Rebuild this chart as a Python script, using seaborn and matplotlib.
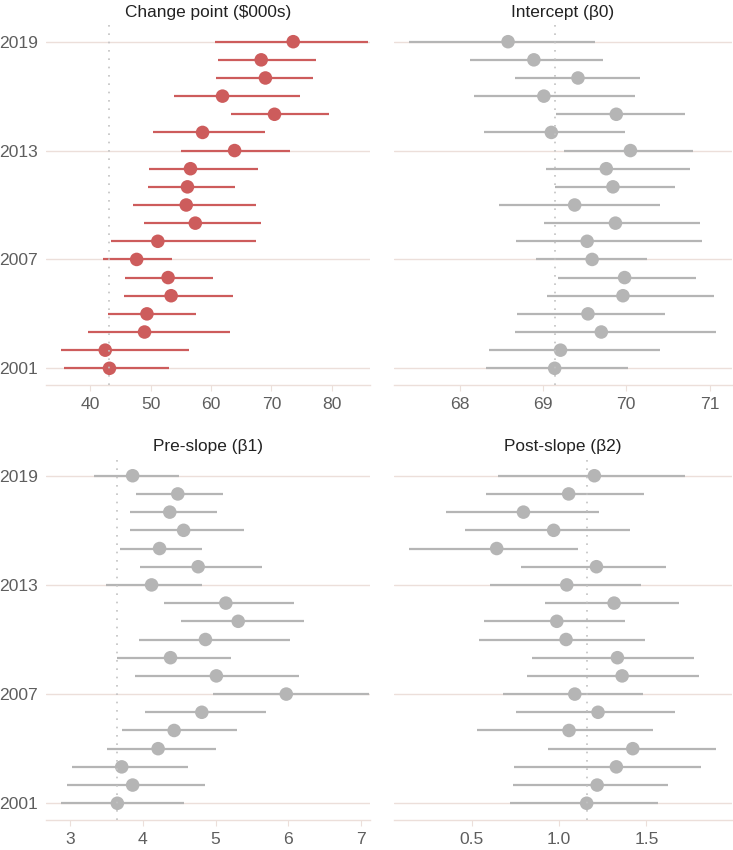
import matplotlib
matplotlib.use("Agg")
import matplotlib.pyplot as plt
import seaborn as sns
import pandas as pd

# years, top row first
years = list(range(2019, 2000, -1))

# Change point ($000s)
cp_est = [73.6, 68.3, 69.0, 61.9, 70.5, 58.6, 63.9, 56.6, 56.1, 55.9, 57.4, 51.2, 47.7, 52.9, 53.4, 49.4, 49.0, 42.5, 43.2]
cp_lo = [60.7, 61.2, 60.9, 53.8, 63.3, 50.4, 55.0, 49.8, 49.6, 47.1, 48.9, 43.5, 42.1, 45.7, 45.6, 43.0, 39.7, 35.2, 35.6]
cp_hi = [86.0, 77.4, 76.9, 74.7, 79.5, 69.0, 73.1, 67.8, 64.0, 67.4, 68.3, 67.5, 53.5, 60.4, 63.6, 57.5, 63.1, 56.3, 53.1]

# Intercept (b0)
b0_est = [68.58, 68.89, 69.42, 69.01, 69.88, 69.10, 70.05, 69.76, 69.84, 69.38, 69.87, 69.53, 69.59, 69.98, 69.96, 69.54, 69.70, 69.21, 69.14]
b0_lo = [67.39, 68.12, 68.66, 68.17, 69.15, 68.29, 69.25, 69.03, 69.14, 68.47, 69.01, 68.67, 68.92, 69.18, 69.05, 68.69, 68.66, 68.35, 68.31]
b0_hi = [69.63, 69.72, 70.16, 70.10, 70.71, 69.98, 70.80, 70.76, 70.59, 70.40, 70.89, 70.91, 70.25, 70.84, 71.05, 70.46, 71.08, 70.40, 70.02]

# Pre-slope (b1)
b1_est = [3.86, 4.48, 4.37, 4.56, 4.23, 4.76, 4.12, 5.14, 5.31, 4.86, 4.38, 5.01, 5.97, 4.81, 4.43, 4.21, 3.71, 3.86, 3.65]
b1_lo = [3.33, 3.91, 3.82, 3.82, 3.69, 3.96, 3.49, 4.29, 4.53, 3.95, 3.64, 3.89, 4.96, 4.03, 3.72, 3.51, 3.03, 2.96, 2.88]
b1_hi = [4.50, 5.10, 5.02, 5.39, 4.81, 5.64, 4.81, 6.08, 6.21, 6.02, 5.21, 6.14, 7.10, 5.69, 5.30, 5.00, 4.62, 4.86, 4.56]

# Post-slope (b2)
b2_est = [1.202, 1.055, 0.796, 0.969, 0.643, 1.214, 1.044, 1.315, 0.987, 1.040, 1.334, 1.361, 1.090, 1.223, 1.057, 1.422, 1.328, 1.218, 1.158]
b2_lo = [0.653, 0.584, 0.355, 0.460, 0.141, 0.782, 0.603, 0.918, 0.569, 0.542, 0.844, 0.817, 0.681, 0.754, 0.529, 0.935, 0.742, 0.735, 0.718]
b2_hi = [1.721, 1.489, 1.229, 1.405, 1.109, 1.615, 1.468, 1.687, 1.380, 1.490, 1.773, 1.802, 1.479, 1.662, 1.540, 1.897, 1.815, 1.626, 1.569]

titles = ["Change point ($000s)", "Intercept (\u03b20)", "Pre-slope (\u03b21)", "Post-slope (\u03b22)"]
year_ticks = [2001, 2007, 2013, 2019]

sns.set_theme(style="white")
plt.rcParams["font.family"] = ["Liberation Sans", "DejaVu Sans"]

red = "#cd5c5c"
grey = "#b5b5b5"
grid_col = "#ecdfda"
text_col = "#5e5e5e"

fig = plt.figure(figsize=(7.33, 8.5), dpi=100)
W, H = 733, 850

def box(l, r, t, b):
    return [l / W, 1 - b / H, (r - l) / W, (b - t) / H]

panels = [
    (box(46, 370, 25, 385), cp_est, cp_lo, cp_hi, red, [40, 50, 60, 70, 80], (32.7, 86.3), True),
    (box(394, 732, 25, 385), b0_est, b0_lo, b0_hi, grey, [68, 69, 70, 71], (67.21, 71.27), False),
    (box(46, 370, 459, 820), b1_est, b1_lo, b1_hi, grey, [3, 4, 5, 6, 7], (2.67, 7.12), True),
    (box(394, 732, 459, 820), b2_est, b2_lo, b2_hi, grey, [0.5, 1.0, 1.5], (0.055, 1.99), False),
]

for (rect, est, lo, hi, color, xt, xlim, show_y), title in zip(panels, titles):
    ax = fig.add_axes(rect)
    df = pd.DataFrame({"year": years, "est": est, "lo": lo, "hi": hi})
    ax.hlines(df["year"], df["lo"], df["hi"], color=color, lw=1.6, zorder=3)
    sns.scatterplot(data=df, x="est", y="year", color=color, s=95,
                    edgecolor="none", linewidth=0, zorder=4, ax=ax, legend=False)
    # reference line at the 2001 estimate
    ax.axvline(df["est"].iloc[-1], color="#c2c2c2", lw=1.2, ls=(0, (1, 4)), zorder=5)

    ax.set_xlim(*xlim)
    ax.set_ylim(2001 - 0.92, 2019 + 0.92)
    ax.set_xticks(xt)
    if isinstance(xt[0], float):
        ax.set_xticklabels([f"{v:.1f}" for v in xt])
    ax.set_yticks(year_ticks)
    if not show_y:
        ax.set_yticklabels([])
    ax.set_xlabel("")
    ax.set_ylabel("")
    ax.grid(axis="y", color=grid_col, lw=1.0, zorder=0)
    ax.grid(axis="x", visible=False)
    for side in ["top", "right", "left"]:
        ax.spines[side].set_visible(False)
    ax.spines["bottom"].set_color(grid_col)
    ax.spines["bottom"].set_linewidth(1.0)
    ax.tick_params(axis="x", length=4, width=0.8, color=grid_col, labelsize=12.6,
                   labelcolor=text_col, pad=5, bottom=True)
    ax.tick_params(axis="y", length=0, labelsize=12.6, labelcolor=text_col, pad=6)
    ax.set_title(title, fontsize=12.4, color="#222222", pad=6)

fig.savefig("out.png", dpi=100)
